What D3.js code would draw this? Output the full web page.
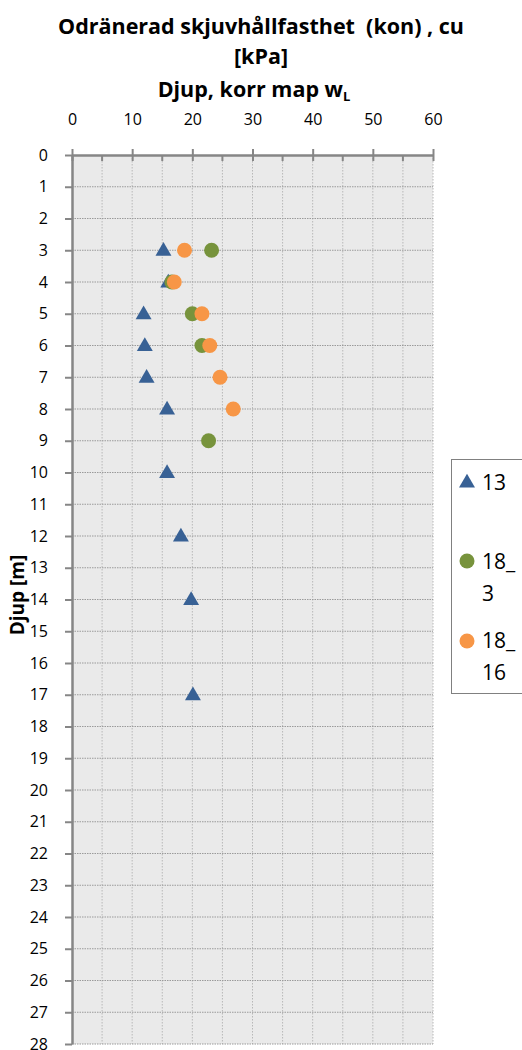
<!DOCTYPE html>
<html>
<head>
<meta charset="utf-8">
<script src="https://cdn.jsdelivr.net/npm/d3@7/dist/d3.min.js"></script>
<style>
  body { margin: 0; background: #fff; }
  svg { display: block; font-family: "Open Sans", Lato, sans-serif; }
  text { white-space: pre; }
</style>
</head>
<body>
<div id="chart"></div>
<script>
// depth [m] and cu [kPa] per series
const s13Depth = [3, 4, 5, 6, 7, 8, 10, 12, 14, 17];
const s13Cu    = [15.2, 16.0, 11.9, 12.1, 12.4, 15.8, 15.8, 18.1, 19.8, 20.1];

const s18_3Depth = [3, 4, 5, 6, 9];
const s18_3Cu    = [23.2, 16.6, 20.0, 21.6, 22.7];

const s18_16Depth = [3, 4, 5, 6, 7, 8];
const s18_16Cu    = [18.7, 17.0, 21.6, 22.9, 24.6, 26.8];

const xTicks = [0, 10, 20, 30, 40, 50, 60];
const yTicks = d3.range(0, 29);

const seriesNames = ["13", "18_3", "18_16"];
const seriesColors = ["#386195", "#77933C", "#F79646"];

const width = 522, height = 1050;
const margin = {top: 155, left: 72, right: 89, bottom: 6};

const svg = d3.select("#chart").append("svg")
    .attr("width", width)
    .attr("height", height);

const x = d3.scaleLinear().domain([0, 60]).range([margin.left, width - margin.right]);
const y = d3.scaleLinear().domain([0, 28]).range([margin.top, height - margin.bottom]);

// plot background
svg.append("rect")
    .attr("x", x(0)).attr("y", y(0))
    .attr("width", x(60) - x(0)).attr("height", y(28) - y(0))
    .attr("fill", "#EAEAEA");

// vertical gridlines every 5
svg.append("g").selectAll("line")
  .data(d3.range(5, 61, 5))
  .join("line")
    .attr("x1", d => x(d)).attr("x2", d => x(d))
    .attr("y1", y(0)).attr("y2", y(28))
    .attr("stroke", "#b8b8b8")
    .attr("stroke-width", 1)
    .attr("stroke-dasharray", "1.5,1.5");

// horizontal gridlines every 1
svg.append("g").selectAll("line")
  .data(d3.range(1, 29))
  .join("line")
    .attr("x1", x(0)).attr("x2", x(60))
    .attr("y1", d => y(d)).attr("y2", d => y(d))
    .attr("stroke", "#9a9a9a")
    .attr("stroke-width", 1)
    .attr("stroke-dasharray", "1.5,1");

// top axis
const xAxis = d3.axisTop(x).tickValues(xTicks).tickSize(6).tickSizeOuter(0).tickPadding(24);
const xAxisG = svg.append("g")
    .attr("transform", `translate(0,${y(0)})`)
    .call(xAxis);
xAxisG.select(".domain").attr("stroke", "#868686").attr("stroke-width", 2.5);
xAxisG.selectAll(".tick line").attr("stroke", "#868686").attr("stroke-width", 2).attr("y2", 6).attr("y1", -6);
xAxisG.selectAll(".tick text").attr("font-size", 16).attr("fill", "#000").attr("font-family", "'Open Sans', sans-serif");

// minor ticks at 5s
svg.append("g").selectAll("line")
  .data(d3.range(5, 60, 10))
  .join("line")
    .attr("x1", d => x(d)).attr("x2", d => x(d))
    .attr("y1", y(0)).attr("y2", y(0) + 6)
    .attr("stroke", "#868686").attr("stroke-width", 2);

// left axis
const yAxis = d3.axisLeft(y).tickValues(yTicks).tickSize(7).tickSizeOuter(0).tickPadding(17);
const yAxisG = svg.append("g")
    .attr("transform", `translate(${x(0)},0)`)
    .call(yAxis);
yAxisG.select(".domain").attr("stroke", "#868686").attr("stroke-width", 2.5);
yAxisG.selectAll(".tick line").attr("stroke", "#868686").attr("stroke-width", 2);
yAxisG.selectAll(".tick text").attr("font-size", 16).attr("fill", "#000").attr("font-family", "'Open Sans', sans-serif");

// titles
const title = svg.append("g").attr("font-weight", "bold").attr("font-size", 21.5).attr("text-anchor", "middle");
title.append("text").attr("x", 261).attr("y", 34).text("Odränerad skjuvhållfasthet  (kon) , cu");
title.append("text").attr("x", 261).attr("y", 64).text("[kPa]");
const sub = title.append("text").attr("x", 254).attr("y", 97);
sub.append("tspan").text("Djup, korr map w");
sub.append("tspan").attr("font-size", 13).attr("dy", 4).text("L");

svg.append("text")
    .attr("transform", `translate(24,${595}) rotate(-90)`)
    .attr("text-anchor", "middle")
    .attr("font-weight", "bold")
    .attr("font-size", 19)
    .text("Djup [m]");

// markers
const tri = d3.symbol().type(d3.symbolTriangle).size(110);

const pts13 = s13Depth.map((d, i) => ({depth: d, cu: s13Cu[i]}));
const pts18_3 = s18_3Depth.map((d, i) => ({depth: d, cu: s18_3Cu[i]}));
const pts18_16 = s18_16Depth.map((d, i) => ({depth: d, cu: s18_16Cu[i]}));

svg.append("g").selectAll("path")
  .data(pts13)
  .join("path")
    .attr("d", tri)
    .attr("transform", d => `translate(${x(d.cu)},${y(d.depth) + 1})`)
    .attr("fill", seriesColors[0]);

svg.append("g").selectAll("circle")
  .data(pts18_3)
  .join("circle")
    .attr("cx", d => x(d.cu)).attr("cy", d => y(d.depth))
    .attr("r", 7.5)
    .attr("fill", seriesColors[1]);

svg.append("g").selectAll("circle")
  .data(pts18_16)
  .join("circle")
    .attr("cx", d => x(d.cu)).attr("cy", d => y(d.depth))
    .attr("r", 7.5)
    .attr("fill", seriesColors[2]);

// legend
const legend = svg.append("g");
legend.append("rect")
    .attr("x", 451.5).attr("y", 459.5)
    .attr("width", 80).attr("height", 234)
    .attr("fill", "none")
    .attr("stroke", "#000")
    .attr("stroke-width", 1)
    .attr("stroke-dasharray", "1,1");

const legendRows = [
  {marker: "tri", my: 482, lines: ["13"], ty: [490]},
  {marker: "circle", my: 561, lines: ["18_", "3"], ty: [569, 601]},
  {marker: "circle", my: 641, lines: ["18_", "16"], ty: [648, 680]}
];
legendRows.forEach((r, i) => {
  if (r.marker === "tri") {
    legend.append("path").attr("d", tri).attr("transform", `translate(467,${r.my + 1})`).attr("fill", seriesColors[i]);
  } else {
    legend.append("circle").attr("cx", 467).attr("cy", r.my).attr("r", 7.5).attr("fill", seriesColors[i]);
  }
  r.lines.forEach((t, j) => {
    legend.append("text").attr("x", 482).attr("y", r.ty[j]).attr("font-size", 21).text(t);
  });
});
</script>
</body>
</html>
